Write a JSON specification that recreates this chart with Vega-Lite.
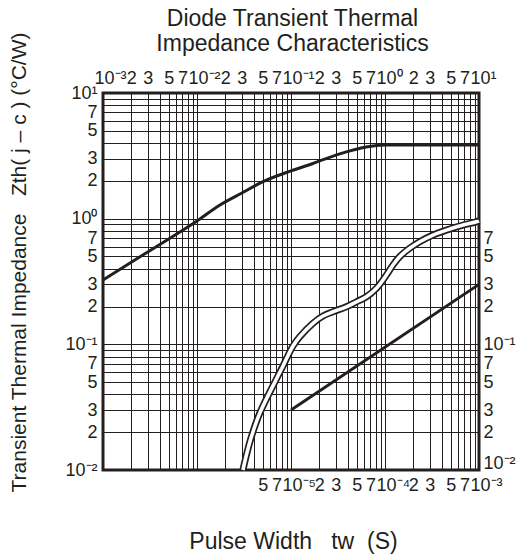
{
  "$schema": "https://vega.github.io/schema/vega-lite/v6.json",
  "width": 376,
  "height": 377,
  "autosize": {"type": "none"},
  "padding": {"left": 103, "top": 93, "right": 45, "bottom": 86},
  "background": "white",
  "config": {
    "view": {"stroke": "#231f20", "strokeWidth": 3},
    "font": "Liberation Sans",
    "axis": {
      "labelColor": "#231f20",
      "titleColor": "#231f20",
      "labelFont": "Liberation Sans",
      "titleFont": "Liberation Sans",
      "labelFontSize": 18,
      "titleFontWeight": "normal",
      "domain": false,
      "ticks": false,
      "gridColor": "#231f20",
      "gridOpacity": 1,
      "gridWidth": 1,
      "labelOverlap": false,
      "labelFlush": false,
      "labelBound": false
    }
  },
  "datasets": {
    "upper": [
      {"t": 0.001, "z": 0.325},
      {"t": 0.0025, "z": 0.50},
      {"t": 0.005, "z": 0.69},
      {"t": 0.01, "z": 0.96},
      {"t": 0.0174, "z": 1.28},
      {"t": 0.03, "z": 1.6},
      {"t": 0.0504, "z": 1.97},
      {"t": 0.1, "z": 2.4},
      {"t": 0.171, "z": 2.75},
      {"t": 0.388, "z": 3.4},
      {"t": 0.745, "z": 3.78},
      {"t": 1.0, "z": 3.85},
      {"t": 10, "z": 3.85}
    ],
    "straight": [
      {"t": 1e-5, "z": 0.03},
      {"t": 1e-3, "z": 0.3}
    ],
    "double": [
      {"t": 3.08e-6, "z": 0.0100},
      {"t": 3.4e-6, "z": 0.0137},
      {"t": 3.79e-6, "z": 0.0184},
      {"t": 4.64e-6, "z": 0.0282},
      {"t": 7.0e-6, "z": 0.053},
      {"t": 8.2e-6, "z": 0.067},
      {"t": 1.05e-5, "z": 0.097},
      {"t": 1.24e-5, "z": 0.115},
      {"t": 1.71e-5, "z": 0.147},
      {"t": 2.19e-5, "z": 0.168},
      {"t": 2.8e-5, "z": 0.1816},
      {"t": 3.88e-5, "z": 0.199},
      {"t": 4.97e-5, "z": 0.218},
      {"t": 6.34e-5, "z": 0.239},
      {"t": 8.11e-5, "z": 0.279},
      {"t": 1.035e-4, "z": 0.356},
      {"t": 1.216e-4, "z": 0.428},
      {"t": 1.43e-4, "z": 0.498},
      {"t": 1.83e-4, "z": 0.581},
      {"t": 2.34e-4, "z": 0.655},
      {"t": 3.24e-4, "z": 0.741},
      {"t": 4.5e-4, "z": 0.811},
      {"t": 6.76e-4, "z": 0.889},
      {"t": 9.38e-4, "z": 0.944},
      {"t": 1e-3, "z": 0.962}
    ]
  },
  "resolve": {"scale": {"x": "independent", "y": "independent"}},
  "layer": [
    {
      "data": {"name": "upper"},
      "mark": {"type": "line", "color": "#231f20", "strokeWidth": 3, "interpolate": "monotone", "clip": false},
      "encoding": {
        "x": {
          "field": "t", "type": "quantitative",
          "scale": {"type": "log", "domain": [0.001, 10], "nice": false},
          "axis": {
            "orient": "top",
            "values": [0.001,0.002,0.003,0.004,0.005,0.006,0.007,0.008,0.009,0.01,0.02,0.03,0.04,0.05,0.06,0.07,0.08,0.09,0.1,0.2,0.3,0.4,0.5,0.6,0.7,0.8,0.9,1,2,3,4,5,6,7,8,9,10],
            "grid": true,
            "labelExpr": "round(datum.value/pow(10,floor(log(datum.value)/LN10+1e-6)))==1 ? '10'+['⁻⁷','⁻⁶','⁻⁵','⁻⁴','⁻³','⁻²','⁻¹','⁰','¹'][floor(log(datum.value)/LN10+1e-6)+7] : (indexof([2,3,5,7],round(datum.value/pow(10,floor(log(datum.value)/LN10+1e-6))))>=0 ? ''+round(datum.value/pow(10,floor(log(datum.value)/LN10+1e-6))) : '')",
            "labelPadding": 6,
            "labelAlign": {"condition": {"test": "round(datum.value/pow(10,floor(log(datum.value)/LN10+1e-6)))==1", "value": "left"}, "value": "center"},
            "labelOffset": {"condition": {"test": "round(datum.value/pow(10,floor(log(datum.value)/LN10+1e-6)))==1", "value": -9}, "value": 0},
            "title": ["Diode Transient Thermal", "Impedance Characteristics"],
            "titleFontSize": 23,
            "titleLineHeight": 25,
            "titleX": 189,
            "titleY": -68,
            "titleAlign": "center",
            "titleBaseline": "alphabetic",
            "titleAngle": 0
          }
        },
        "y": {
          "field": "z", "type": "quantitative",
          "scale": {"type": "log", "domain": [0.01, 10], "nice": false},
          "axis": {
            "orient": "left",
            "values": [0.01,0.02,0.03,0.04,0.05,0.06,0.07,0.08,0.09,0.1,0.2,0.3,0.4,0.5,0.6,0.7,0.8,0.9,1,2,3,4,5,6,7,8,9,10],
            "grid": true,
            "labelExpr": "round(datum.value/pow(10,floor(log(datum.value)/LN10+1e-6)))==1 ? '10'+['⁻⁷','⁻⁶','⁻⁵','⁻⁴','⁻³','⁻²','⁻¹','⁰','¹'][floor(log(datum.value)/LN10+1e-6)+7] : (indexof([2,3,5,7],round(datum.value/pow(10,floor(log(datum.value)/LN10+1e-6))))>=0 ? ''+round(datum.value/pow(10,floor(log(datum.value)/LN10+1e-6))) : '')",
            "labelPadding": 6,
            "labelBaseline": "middle",
            "title": "Transient Thermal Impedance\u00a0\u00a0\u00a0Zth( j – c ) (°C/W)",
            "titleFontSize": 21,
            "titleX": -78,
            "titleY": 169,
            "titleAngle": -90,
            "titleAlign": "center",
            "titleBaseline": "alphabetic"
          }
        }
      }
    },
    {
      "data": {"name": "straight"},
      "mark": {"type": "line", "color": "#231f20", "strokeWidth": 3, "clip": false},
      "encoding": {
        "x": {
          "field": "t", "type": "quantitative",
          "scale": {"type": "log", "domain": [1e-7, 1e-3], "nice": false},
          "axis": {
            "orient": "bottom",
            "values": [5e-6, 7e-6, 1e-5, 2e-5, 3e-5, 5e-5, 7e-5, 1e-4, 2e-4, 3e-4, 5e-4, 7e-4, 1e-3],
            "grid": false,
            "labelExpr": "round(datum.value/pow(10,floor(log(datum.value)/LN10+1e-6)))==1 ? '10'+['⁻⁷','⁻⁶','⁻⁵','⁻⁴','⁻³','⁻²','⁻¹','⁰','¹'][floor(log(datum.value)/LN10+1e-6)+7] : (indexof([2,3,5,7],round(datum.value/pow(10,floor(log(datum.value)/LN10+1e-6))))>=0 ? ''+round(datum.value/pow(10,floor(log(datum.value)/LN10+1e-6))) : '')",
            "labelPadding": 6,
            "labelAlign": {"condition": {"test": "round(datum.value/pow(10,floor(log(datum.value)/LN10+1e-6)))==1", "value": "left"}, "value": "center"},
            "labelOffset": {"condition": {"test": "round(datum.value/pow(10,floor(log(datum.value)/LN10+1e-6)))==1", "value": -9}, "value": 0},
            "title": "Pulse Width\u00a0\u00a0\u00a0tw\u00a0\u00a0(S)",
            "titleFontSize": 23,
            "titleX": 190,
            "titleY": 78,
            "titleAlign": "center",
            "titleBaseline": "alphabetic"
          }
        },
        "y": {
          "field": "z", "type": "quantitative",
          "scale": {"type": "log", "domain": [0.01, 10], "nice": false},
          "axis": {
            "orient": "right",
            "values": [0.01, 0.02, 0.03, 0.05, 0.07, 0.1, 0.2, 0.3, 0.5, 0.7],
            "grid": false,
            "labelExpr": "round(datum.value/pow(10,floor(log(datum.value)/LN10+1e-6)))==1 ? '10'+['⁻⁷','⁻⁶','⁻⁵','⁻⁴','⁻³','⁻²','⁻¹','⁰','¹'][floor(log(datum.value)/LN10+1e-6)+7] : (indexof([2,3,5,7],round(datum.value/pow(10,floor(log(datum.value)/LN10+1e-6))))>=0 ? ''+round(datum.value/pow(10,floor(log(datum.value)/LN10+1e-6))) : '')",
            "labelPadding": 4,
            "labelAlign": "left",
            "labelBaseline": "middle",
            "labelOffset": {"condition": {"test": "datum.value < 0.015", "value": -7}, "value": 0},
            "title": null
          }
        }
      }
    },
    {
      "data": {"name": "double"},
      "mark": {"type": "line", "color": "#231f20", "strokeWidth": 7, "interpolate": "catmull-rom", "strokeCap": "butt", "clip": false},
      "encoding": {
        "x": {"field": "t", "type": "quantitative", "scale": {"type": "log", "domain": [1e-7, 1e-3], "nice": false}, "axis": null},
        "y": {"field": "z", "type": "quantitative", "scale": {"type": "log", "domain": [0.01, 10], "nice": false}, "axis": null}
      }
    },
    {
      "data": {"name": "double"},
      "mark": {"type": "line", "color": "white", "strokeWidth": 3.6, "interpolate": "catmull-rom", "strokeCap": "butt", "clip": false},
      "encoding": {
        "x": {"field": "t", "type": "quantitative", "scale": {"type": "log", "domain": [1e-7, 1e-3], "nice": false}, "axis": null},
        "y": {"field": "z", "type": "quantitative", "scale": {"type": "log", "domain": [0.01, 10], "nice": false}, "axis": null}
      }
    }
  ]
}
